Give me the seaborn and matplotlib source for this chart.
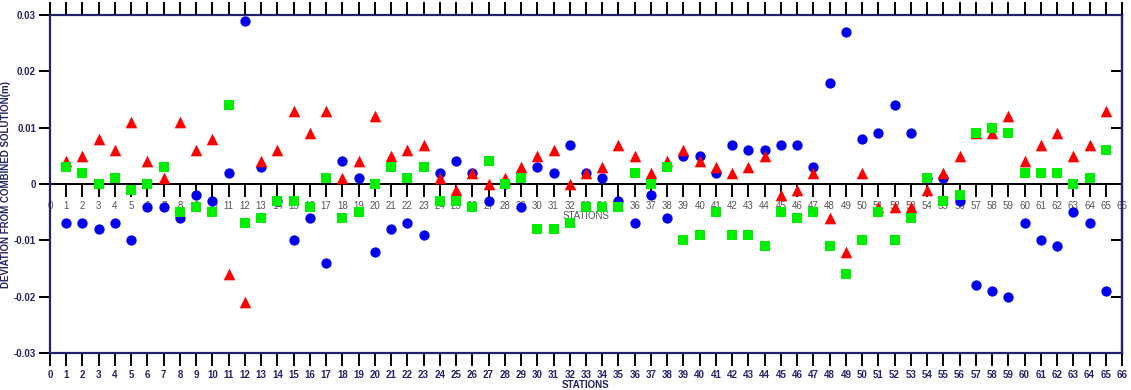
import numpy as np
import pandas as pd
import matplotlib
matplotlib.use("Agg")
import matplotlib.pyplot as plt
import seaborn as sns

stations = list(range(1, 66))

blue_circles = [-0.007, -0.007, -0.008, -0.007, -0.010, -0.004, -0.004, -0.006, -0.002, -0.003,
                0.002, 0.029, 0.003, -0.003, -0.010, -0.006, -0.014, 0.004, 0.001, -0.012,
                -0.008, -0.007, -0.009, 0.002, 0.004, 0.002, -0.003, 0.000, -0.004, 0.003,
                0.002, 0.007, 0.002, 0.001, -0.003, -0.007, -0.002, -0.006, 0.005, 0.005,
                0.002, 0.007, 0.006, 0.006, 0.007, 0.007, 0.003, 0.018, 0.027, 0.008,
                0.009, 0.014, 0.009, 0.001, 0.001, -0.003, -0.018, -0.019, -0.020, -0.007,
                -0.010, -0.011, -0.005, -0.007, -0.019]

red_triangles = [0.004, 0.005, 0.008, 0.006, 0.011, 0.004, 0.001, 0.011, 0.006, 0.008,
                 -0.016, -0.021, 0.004, 0.006, 0.013, 0.009, 0.013, 0.001, 0.004, 0.012,
                 0.005, 0.006, 0.007, 0.001, -0.001, 0.002, 0.000, 0.001, 0.003, 0.005,
                 0.006, 0.000, 0.002, 0.003, 0.007, 0.005, 0.002, 0.004, 0.006, 0.004,
                 0.003, 0.002, 0.003, 0.005, -0.002, -0.001, 0.002, -0.006, -0.012, 0.002,
                 -0.004, -0.004, -0.004, -0.001, 0.002, 0.005, 0.009, 0.009, 0.012, 0.004,
                 0.007, 0.009, 0.005, 0.007, 0.013]

green_squares = [0.003, 0.002, 0.000, 0.001, -0.001, 0.000, 0.003, -0.005, -0.004, -0.005,
                 0.014, -0.007, -0.006, -0.003, -0.003, -0.004, 0.001, -0.006, -0.005, 0.000,
                 0.003, 0.001, 0.003, -0.003, -0.003, -0.004, 0.004, 0.000, 0.001, -0.008,
                 -0.008, -0.007, -0.004, -0.004, -0.004, 0.002, 0.000, 0.003, -0.010, -0.009,
                 -0.005, -0.009, -0.009, -0.011, -0.005, -0.006, -0.005, -0.011, -0.016, -0.010,
                 -0.005, -0.010, -0.006, 0.001, -0.003, -0.002, 0.009, 0.010, 0.009, 0.002,
                 0.002, 0.002, 0.000, 0.001, 0.006]

x_ticks = list(range(0, 67))
y_ticks = [-0.03, -0.02, -0.01, 0.0, 0.01, 0.02, 0.03]
y_tick_labels = ["-0.03", "-0.02", "-0.01", "0", "0.01", "0.02", "0.03"]

NAVY = "#23236b"
sns.set_style("ticks")
plt.rcParams["font.family"] = ["Liberation Sans", "DejaVu Sans"]
plt.rcParams.update({
    "xtick.direction": "out", "xtick.major.size": 9, "xtick.major.width": 1.4,
    "xtick.color": "black",
    "ytick.direction": "out", "ytick.major.size": 8, "ytick.major.width": 1.4,
    "ytick.color": "black",
})

L, R, T, B = 50 / 1131, 1122 / 1131, 1 - 15 / 390, 1 - 353 / 390
fig = plt.figure(figsize=(11.31, 3.90), dpi=100)
ax = fig.add_axes([L, B, R - L, T - B])

df_b = pd.DataFrame({"station": stations, "dev": blue_circles})
df_r = pd.DataFrame({"station": stations, "dev": red_triangles})
df_g = pd.DataFrame({"station": stations, "dev": green_squares})

sns.scatterplot(data=df_b, x="station", y="dev", ax=ax, marker="o", color="#0000ee",
                s=55, linewidth=0, zorder=3)
sns.scatterplot(data=df_r, x="station", y="dev", ax=ax, marker="^", color="#ff0000",
                s=70, linewidth=0, zorder=4)
sns.scatterplot(data=df_g, x="station", y="dev", ax=ax, marker="s", color="#00ee00",
                s=50, linewidth=0, zorder=5)

ax.set_xlim(0, 66)
ax.set_ylim(-0.03, 0.03)

ax.set_xticks(x_ticks)
ax.set_xticklabels([str(t) for t in x_ticks], fontsize=7, fontweight="bold", color=NAVY)
ax.set_yticks(y_ticks)
ax.set_yticklabels(y_tick_labels, fontsize=7, fontweight="bold", color=NAVY)
ax.set_xlabel("STATIONS", fontsize=7, fontweight="bold", color=NAVY, labelpad=0)
ax.set_ylabel("DEVIATION FROM COMBINED SOLUTION(m)", fontsize=7, fontweight="bold",
              color=NAVY)
ax.yaxis.set_label_coords(-0.036, 0.5)

for side in ["left", "right", "top", "bottom"]:
    ax.spines[side].set_visible(True)
    ax.spines[side].set_linewidth(1.6)
    ax.spines[side].set_color(NAVY)

# middle axis along zero (twin sharing y)
mid = ax.twiny()
mid.set_xlim(ax.get_xlim())
mid.set_xticks(x_ticks)
mid.xaxis.set_ticks_position("bottom")
mid.xaxis.set_label_position("bottom")
mid.spines["bottom"].set_position(("data", 0))
for side in ["left", "right", "top"]:
    mid.spines[side].set_visible(False)
mid.spines["bottom"].set_color("black")
mid.spines["bottom"].set_linewidth(1.4)
mid.set_xticklabels([str(t) for t in x_ticks], fontsize=7, color="#555555")
mid.tick_params(axis="x", direction="out", length=9, width=1.4, color="black", pad=3,
                top=False, labeltop=False, bottom=True, labelbottom=True)
mid.set_xlabel("STATIONS", fontsize=7, color="#555555", labelpad=0)
mid.set_zorder(0)

# right side inward ticks
rt = ax.twinx()
rt.set_ylim(ax.get_ylim())
rt.set_yticks(y_ticks)
rt.set_yticklabels([])
rt.tick_params(axis="y", direction="in", length=8, width=1.4, color="black",
               right=True, left=False)
for side in ["left", "top", "bottom"]:
    rt.spines[side].set_visible(False)
rt.spines["right"].set_color(NAVY)
rt.spines["right"].set_linewidth(1.6)
rt.xaxis.set_visible(False)

# re-enable top/bottom ticks on the main axes (twiny turns the top ones off)
ax.xaxis.set_ticks_position("both")
ax.tick_params(axis="x", which="major", top=True, labeltop=False, bottom=True,
               labelbottom=True, direction="out", length=9, width=1.4,
               color="black", pad=3)
ax.tick_params(axis="y", which="major", left=True, right=False, pad=2)

# upward tick marks above the top frame, drawn at the tick positions
ax.vlines(x_ticks, 1.0, 1.037, transform=ax.get_xaxis_transform(), colors="black",
          linewidth=1.4, clip_on=False, zorder=10)

ax.set_zorder(2)
ax.patch.set_visible(False)

fig.savefig("out.png", dpi=100)
